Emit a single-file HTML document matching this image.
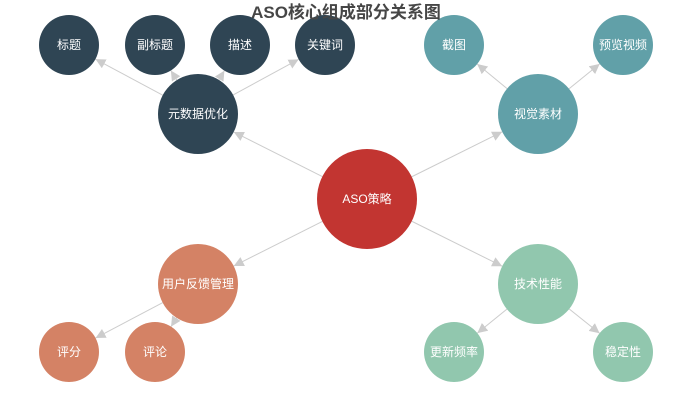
<!DOCTYPE html>
<html><head><meta charset="utf-8"><style>
body{margin:0;background:#fff;width:692px;height:400px;overflow:hidden}
svg text{font-family:"Liberation Sans","Noto Sans CJK SC",sans-serif}
</style></head><body>
<svg id="s" width="692" height="400" viewBox="0 0 692 400" xmlns="http://www.w3.org/2000/svg">
<defs><marker id="a" viewBox="0 0 10 10" refX="10" refY="5" markerWidth="10" markerHeight="10" orient="auto" markerUnits="userSpaceOnUse"><path d="M0,0 L10,5 L0,10 z" fill="#ccc"/></marker></defs>
<g id="lines" stroke="#ccc" stroke-width="1" fill="none"></g>
<g font-size="12" fill="#fff" text-anchor="middle">
<circle cx="367" cy="199" r="50" fill="#c23531"/><text x="367" y="203">ASO策略</text>
<circle cx="198" cy="114" r="40" fill="#2f4554"/><text x="198" y="118">元数据优化</text>
<circle cx="69" cy="45" r="30" fill="#2f4554"/><text x="69" y="49">标题</text>
<circle cx="155" cy="45" r="30" fill="#2f4554"/><text x="155" y="49">副标题</text>
<circle cx="240" cy="45" r="30" fill="#2f4554"/><text x="240" y="49">描述</text>
<circle cx="325" cy="45" r="30" fill="#2f4554"/><text x="325" y="49">关键词</text>
<circle cx="538" cy="114" r="40" fill="#61a0a8"/><text x="538" y="118">视觉素材</text>
<circle cx="454" cy="45" r="30" fill="#61a0a8"/><text x="454" y="49">截图</text>
<circle cx="623" cy="45" r="30" fill="#61a0a8"/><text x="623" y="49">预览视频</text>
<circle cx="198" cy="284" r="40" fill="#d48265"/><text x="198" y="288">用户反馈管理</text>
<circle cx="69" cy="352" r="30" fill="#d48265"/><text x="69" y="356">评分</text>
<circle cx="155" cy="352" r="30" fill="#d48265"/><text x="155" y="356">评论</text>
<circle cx="538" cy="284" r="40" fill="#91c7ae"/><text x="538" y="288">技术性能</text>
<circle cx="454" cy="352" r="30" fill="#91c7ae"/><text x="454" y="356">更新频率</text>
<circle cx="623" cy="352" r="30" fill="#91c7ae"/><text x="623" y="356">稳定性</text>
</g>
<text x="346" y="18" font-size="17" font-weight="bold" fill="#464646" text-anchor="middle">ASO核心组成部分关系图</text>
</svg>
<script>
var N={c:[367,199,50],m:[198,114,40],t1:[69,45,30],t2:[155,45,30],t3:[240,45,30],t4:[325,45,30],v:[538,114,40],v1:[454,45,30],v2:[623,45,30],u:[198,284,40],u1:[69,352,30],u2:[155,352,30],k:[538,284,40],k1:[454,352,30],k2:[623,352,30]};
var E=[["c","m"],["c","v"],["c","u"],["c","k"],["m","t1"],["m","t2"],["m","t3"],["m","t4"],["v","v1"],["v","v2"],["u","u1"],["u","u2"],["k","k1"],["k","k2"]];
var g=document.getElementById("lines");
E.forEach(function(e){var a=N[e[0]],b=N[e[1]],dx=b[0]-a[0],dy=b[1]-a[1],d=Math.hypot(dx,dy),ux=dx/d,uy=dy/d;
var l=document.createElementNS("http://www.w3.org/2000/svg","line");
l.setAttribute("x1",a[0]+ux*a[2]);l.setAttribute("y1",a[1]+uy*a[2]);
l.setAttribute("x2",b[0]-ux*b[2]);l.setAttribute("y2",b[1]-uy*b[2]);
l.setAttribute("marker-end","url(#a)");g.appendChild(l);});
</script>
</body></html>
